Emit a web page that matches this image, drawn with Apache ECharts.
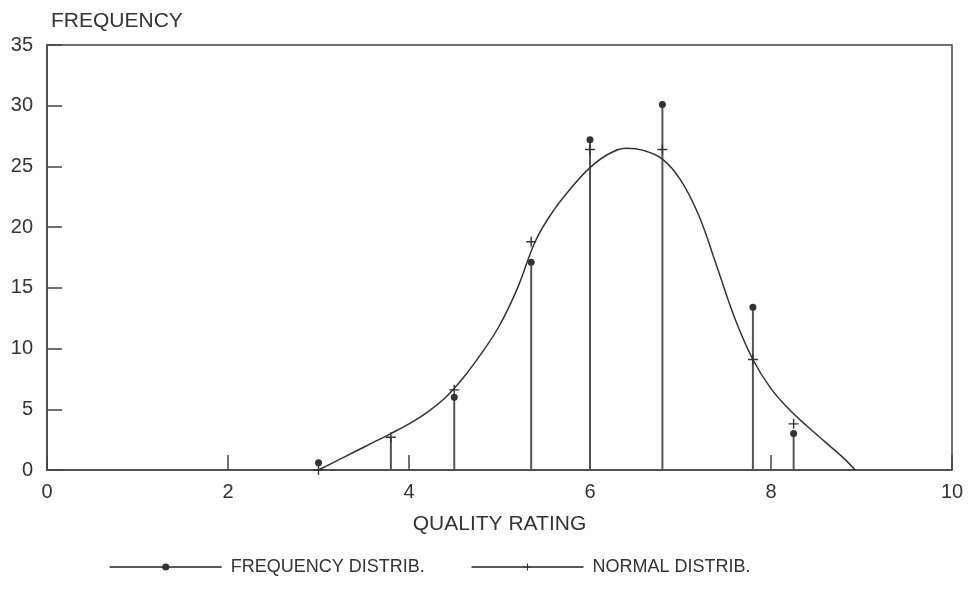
<!DOCTYPE html>
<html>
<head>
<meta charset="utf-8">
<script src="https://cdn.jsdelivr.net/npm/echarts@6/dist/echarts.min.js"></script>
<style>html,body{margin:0;padding:0;background:#fff;}#c{width:970px;height:602px;}</style>
</head>
<body>
<div id="c"></div>
<script>
// Frequency distribution (dots)
var freqX = [3.0, 4.5, 5.35, 6.0, 6.8, 7.8, 8.25];
var freqY = [0.6, 6.0, 17.1, 27.2, 30.1, 13.4, 3.0];
// Normal distribution (plus markers)
var normX = [3.0, 3.8, 4.5, 5.35, 6.0, 6.8, 7.8, 8.25];
var normY = [0, 2.7, 6.6, 18.8, 26.4, 26.4, 9.1, 3.8];
// Vertical stems
var stemX = [3.8, 4.5, 5.35, 6.0, 6.8, 7.8, 8.25];
var stemTop = [2.7, 6.0, 17.1, 27.2, 30.1, 13.4, 3.0];
// Fitted normal curve
var curveX = [3.0, 3.2, 3.4, 3.6, 3.8, 4.0, 4.2, 4.4, 4.6, 4.8, 5.0, 5.2, 5.4, 5.6, 5.8, 6.0, 6.2, 6.4, 6.6, 6.8, 7.0, 7.2, 7.4, 7.6, 7.8, 8.0, 8.2, 8.4, 8.6, 8.8, 8.93];
var curveY = [0, 0.75, 1.5, 2.25, 3.0, 3.8, 4.75, 5.95, 7.6, 9.6, 11.9, 15.0, 18.9, 21.4, 23.3, 24.9, 26.0, 26.5, 26.3, 25.6, 23.9, 21.0, 16.8, 12.5, 9.1, 6.7, 5.0, 3.6, 2.3, 1.0, 0];
var xTicks = [0, 2, 4, 6, 8, 10];
var yTicks = [0, 5, 10, 15, 20, 25, 30, 35];

function zip(a, b) { return a.map(function (v, i) { return [v, b[i]]; }); }

var FONT = '"Liberation Sans", Arial, Helvetica, sans-serif';
var INK = '#333';
var plusPath = 'path://M0,4.3H10V5.7H0Z M4.3,0H5.7V10H4.3Z';

var chart = echarts.init(document.getElementById('c'), null, {renderer: 'canvas'});
chart.setOption({
  backgroundColor: '#fff',
  animation: false,
  title: {
    text: 'FREQUENCY', left: 46, top: 6,
    textStyle: {fontFamily: FONT, fontSize: 21, fontWeight: 'normal', color: INK}
  },
  grid: {left: 47, right: 18, top: 45, bottom: 132, show: true, borderColor: '#444', borderWidth: 1.5, backgroundColor: 'transparent'},
  legend: {
    left: 104, top: 553,
    itemWidth: 112, itemHeight: 9, itemGap: 46,
    textStyle: {fontFamily: FONT, fontSize: 18, color: INK, padding: [0, 0, 0, 4]},
    data: [
      {name: 'FREQUENCY DISTRIB.', lineStyle: {opacity: 1, color: '#222', width: 1.5}},
      {name: 'NORMAL DISTRIB.', lineStyle: {opacity: 1, color: '#222', width: 1.5}}
    ]
  },
  xAxis: {
    type: 'value', min: xTicks[0], max: xTicks[xTicks.length - 1], interval: 2,
    name: 'QUALITY RATING', nameLocation: 'middle', nameGap: 44,
    nameTextStyle: {fontFamily: FONT, fontSize: 21, color: INK},
    axisLine: {show: true, lineStyle: {color: '#444', width: 1.5}},
    axisTick: {show: true, inside: true, length: 15, lineStyle: {color: '#444', width: 1.5}},
    axisLabel: {fontFamily: FONT, fontSize: 20, color: INK, margin: 12},
    splitLine: {show: false}
  },
  yAxis: {
    type: 'value', min: yTicks[0], max: yTicks[yTicks.length - 1], interval: 5,
    axisLine: {show: true, lineStyle: {color: '#444', width: 1.5}},
    axisTick: {show: true, inside: true, length: 15, lineStyle: {color: '#444', width: 1.5}},
    axisLabel: {fontFamily: FONT, fontSize: 20, color: INK, margin: 14},
    splitLine: {show: false}
  },
  series: [
    {
      name: 'stems', type: 'custom', z: 2,
      data: zip(stemX, stemTop),
      renderItem: function (params, api) {
        var p0 = api.coord([api.value(0), 0]);
        var p1 = api.coord([api.value(0), api.value(1)]);
        return {type: 'line', shape: {x1: p0[0], y1: p0[1], x2: p1[0], y2: p1[1]},
                style: {stroke: '#555', lineWidth: 2}};
      }
    },
    {
      name: 'curve', type: 'line', z: 3, smooth: 0.4, showSymbol: false,
      data: zip(curveX, curveY),
      lineStyle: {color: '#333', width: 1.5},
      itemStyle: {color: '#333'}
    },
    {
      name: 'FREQUENCY DISTRIB.', type: 'line', z: 4,
      data: zip(freqX, freqY),
      symbol: 'circle', symbolSize: 7, showAllSymbol: true,
      lineStyle: {opacity: 0, color: '#222', width: 1.5},
      itemStyle: {color: '#333'}
    },
    {
      name: 'NORMAL DISTRIB.', type: 'line', z: 4,
      data: zip(normX, normY),
      symbol: plusPath, symbolSize: 10, showAllSymbol: true,
      lineStyle: {opacity: 0, color: '#222', width: 1.5},
      itemStyle: {color: '#333'}
    }
  ]
});
</script>
</body>
</html>
